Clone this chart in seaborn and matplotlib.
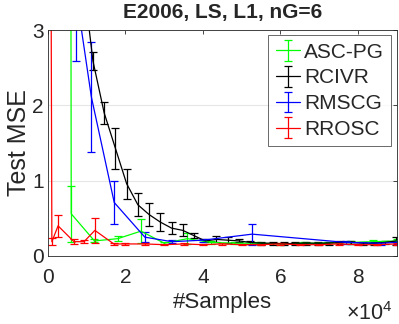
import matplotlib

matplotlib.use('Agg')
import matplotlib.pyplot as plt
import seaborn as sns
from matplotlib.ticker import FuncFormatter

sns.set_style('white')
plt.rcParams['font.family'] = ['Liberation Sans', 'DejaVu Sans']
plt.rcParams['mathtext.fontset'] = 'custom'
plt.rcParams['mathtext.rm'] = 'Liberation Sans'

# x in units of 1e4 samples
asc_x = [0.58, 0.6, 1.2, 1.8, 2.4, 3.0, 3.6, 4.2, 4.8, 5.4, 6.0, 6.6, 7.2, 7.8, 8.4, 9.0]
asc_y = [8.0, 0.56, 0.20, 0.23, 0.33, 0.17, 0.23, 0.18, 0.17, 0.17, 0.16, 0.17, 0.17, 0.18, 0.19, 0.20]
asc_e = [0.0, 0.37, 0.02, 0.03, 0.16, 0.01, 0.07, 0.02, 0.01, 0.01, 0.01, 0.01, 0.01, 0.02, 0.02, 0.02]

rcivr_x = [0.87, 1.16, 1.45, 1.74, 2.03, 2.32, 2.61, 2.90, 3.19, 3.48, 3.77, 4.06, 4.35,
           4.64, 4.93, 5.22, 5.51, 5.80, 6.09, 6.38, 6.67, 6.96, 7.25, 7.54, 7.83, 8.12,
           8.41, 8.70, 8.99]
rcivr_y = [3.85, 2.59, 1.90, 1.43, 0.96, 0.68, 0.55, 0.45, 0.37, 0.34, 0.27, 0.20, 0.22,
           0.21, 0.20, 0.18, 0.17, 0.17, 0.16, 0.17, 0.17, 0.17, 0.17, 0.18, 0.18, 0.17,
           0.17, 0.18, 0.20]
rcivr_e = [0.30, 0.12, 0.15, 0.27, 0.20, 0.15, 0.15, 0.12, 0.08, 0.08, 0.03, 0.02, 0.04,
           0.04, 0.02, 0.02, 0.02, 0.02, 0.02, 0.02, 0.02, 0.02, 0.02, 0.02, 0.02, 0.02,
           0.02, 0.02, 0.05]

rmscg_x = [0.71, 1.12, 1.71, 2.50, 3.20, 4.00, 5.27, 7.70, 8.60, 9.00]
rmscg_y = [3.54, 2.11, 0.71, 0.25, 0.19, 0.21, 0.29, 0.18, 0.17, 0.18]
rmscg_e = [0.95, 0.73, 0.28, 0.07, 0.02, 0.02, 0.14, 0.02, 0.02, 0.02]

rrosc_x = [0.03, 0.10, 0.26, 0.67, 0.93, 1.21, 1.70, 1.98, 2.50, 3.00, 3.50, 4.00, 4.50,
           5.00, 5.50, 6.00, 6.50, 7.00, 7.50, 8.00, 8.50, 9.00]
rrosc_y = [12.0, 0.19, 0.40, 0.19, 0.19, 0.34, 0.16, 0.16, 0.16, 0.15, 0.16, 0.15, 0.16,
           0.15, 0.15, 0.16, 0.15, 0.15, 0.16, 0.15, 0.15, 0.16]
rrosc_e = [0.0, 0.045, 0.15, 0.03, 0.02, 0.17, 0.01, 0.01, 0.01, 0.01, 0.01, 0.01, 0.01,
           0.01, 0.01, 0.01, 0.01, 0.01, 0.01, 0.01, 0.01, 0.01]

series = [
    ('ASC-PG', asc_x, asc_y, asc_e, (0, 1, 0)),
    ('RCIVR', rcivr_x, rcivr_y, rcivr_e, 'black'),
    ('RMSCG', rmscg_x, rmscg_y, rmscg_e, (0, 0, 1)),
    ('RROSC', rrosc_x, rrosc_y, rrosc_e, (1, 0, 0)),
]

fig = plt.figure(figsize=(3.99, 3.24), dpi=100)
ax = fig.add_axes([0.1203, 0.2099, 0.8737, 0.6975])

for name, x, y, e, c in series:
    ax.errorbar(x, y, yerr=e, color=c, lw=0.9, elinewidth=0.9, capsize=3,
                capthick=0.9, label=name)

ax.set_xlim(0, 9)
ax.set_ylim(0, 3)
ax.set_xticks([0, 2, 4, 6, 8])
ax.set_yticks([0, 1, 2, 3])
ax.xaxis.set_major_formatter(FuncFormatter(lambda v, p: f'{v:g}'))
ax.yaxis.grid(True, color='#e6e6e6', lw=0.8)
ax.set_axisbelow(True)
ax.tick_params(direction='in', length=3, width=0.6, colors='#262626',
               labelsize=15, top=True, right=True)
ax.tick_params(axis='x', pad=9)
ax.tick_params(axis='y', pad=3)
for s in ax.spines.values():
    s.set_color('#262626')
    s.set_linewidth(0.6)

ax.set_xlabel('#Samples', fontsize=16, color='#262626', labelpad=3)
ax.set_ylabel('Test MSE', fontsize=18, color='#262626', labelpad=1)
ax.set_title('E2006, LS, L1, nG=6', fontsize=15, fontweight='bold', pad=8.5)
fig.text(0.985, 0.012, r'$\times10^4$', fontsize=15.5, color='#262626',
         ha='right', va='baseline')

leg = ax.legend(loc='upper right', fontsize=15, frameon=True, fancybox=False,
                borderpad=0.35, labelspacing=0.33, handlelength=1.15, handletextpad=0.22,
                borderaxespad=0.25)
leg.get_frame().set_edgecolor('#262626')
leg.get_frame().set_linewidth(0.6)

fig.savefig('out.png', dpi=100)
